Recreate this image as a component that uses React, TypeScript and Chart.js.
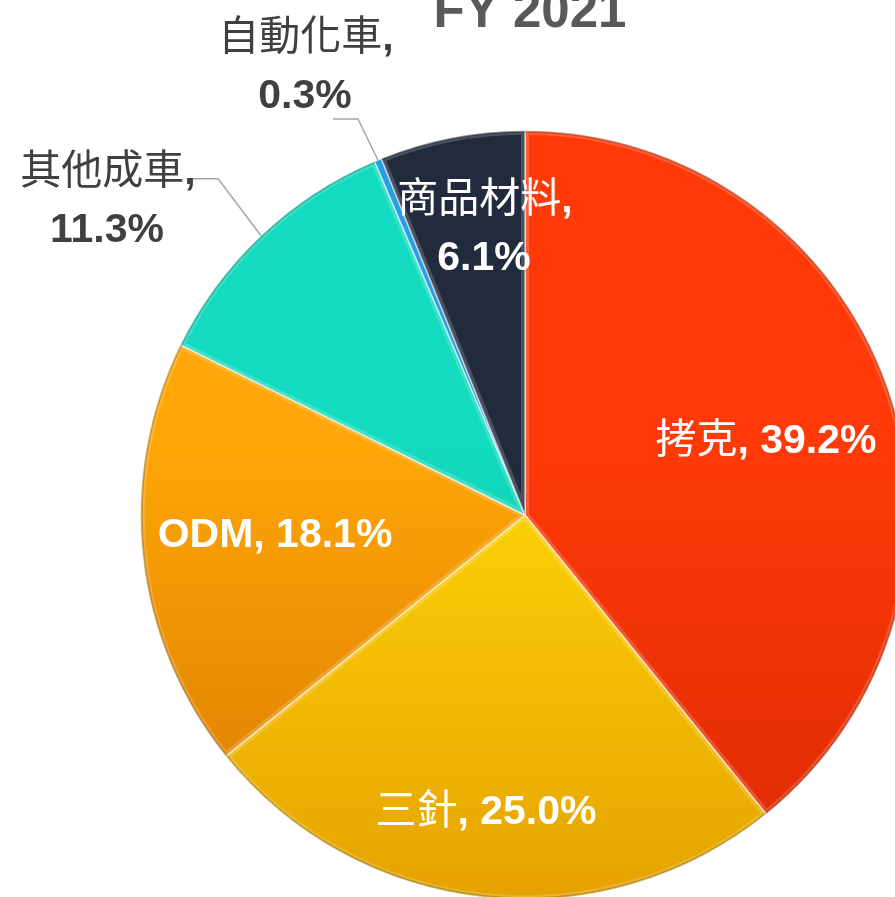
import React, { useEffect, useRef } from "react";
import { Chart, registerables } from "chart.js";
Chart.register(...registerables);

// ---- data ----
const title = "FY 2021";
const categories = ["拷克", "三針", "ODM", "其他成車", "自動化車", "商品材料"];
const shares = [39.2, 25.0, 18.1, 11.3, 0.3, 6.1];

// ---- styles ----
const topColors = ["#FF3A08", "#FFD808", "#FFA708", "#12DBBF", "#2A9EE2", "#222B3D"];
const bottomColors = ["#DC2A02", "#E6A200", "#D67800", "#0BB597", "#1878BA", "#181E2C"];
const LATIN_FONT = "'Liberation Sans', Arial, sans-serif";
const CJK_FONT = "'Noto Sans CJK TC', 'Noto Sans CJK SC', sans-serif";
const FS = 41;

// label layout: offsets (px) from pie centre for each line's centre/baseline
// inside: true = white text in slice; leader: elbow offsets from the slice's outer mid point
const labelLayout = [
  { lines: [{ dx: 241, dy: -62, text: (c: string, v: string) => `${c}, ${v}` }], inside: true },
  { lines: [{ dx: -39, dy: 309, text: (c: string, v: string) => `${c}, ${v}` }], inside: true },
  { lines: [{ dx: -250, dy: 32, text: (c: string, v: string) => `${c}, ${v}` }], inside: true },
  {
    lines: [
      { dx: -417, dy: -331, text: (c: string) => `${c},` },
      { dx: -418, dy: -273, text: (_c: string, v: string) => v },
    ],
    inside: false,
    leader: [[-57, -57], [-43, -57]],
  },
  {
    lines: [
      { dx: -219, dy: -465, text: (c: string) => `${c},` },
      { dx: -220, dy: -407, text: (_c: string, v: string) => v },
    ],
    inside: false,
    leader: [[-31, -41], [-20, -41]],
  },
  {
    lines: [
      { dx: -40, dy: -303, text: (c: string) => `${c},` },
      { dx: -41, dy: -245, text: (_c: string, v: string) => v },
    ],
    inside: true,
  },
];

const isCJK = (ch: string) => ch.charCodeAt(0) >= 0x2e80;

function drawMixed(ctx: CanvasRenderingContext2D, text: string, cx: number, by: number, color: string) {
  const runs: { t: string; cjk: boolean }[] = [];
  for (const ch of text) {
    const c = isCJK(ch);
    if (runs.length && runs[runs.length - 1].cjk === c) runs[runs.length - 1].t += ch;
    else runs.push({ t: ch, cjk: c });
  }
  const fontFor = (cjk: boolean) => (cjk ? `400 ${FS}px ${CJK_FONT}` : `bold ${FS}px ${LATIN_FONT}`);
  let total = 0;
  const widths = runs.map((r) => {
    ctx.font = fontFor(r.cjk);
    const w = ctx.measureText(r.t).width;
    total += w;
    return w;
  });
  let x = cx - total / 2;
  ctx.fillStyle = color;
  ctx.textAlign = "left";
  ctx.textBaseline = "alphabetic";
  runs.forEach((r, i) => {
    ctx.font = fontFor(r.cjk);
    ctx.fillText(r.t, x, by);
    x += widths[i];
  });
}

// subtle bevel: light inner edge + darker rim on every slice
const bevelPlugin = {
  id: "pieBevel",
  afterDatasetsDraw(chart: any) {
    const ctx: CanvasRenderingContext2D = chart.ctx;
    const meta = chart.getDatasetMeta(0);
    ctx.save();
    meta.data.forEach((arc: any) => {
      const { x, y, startAngle, endAngle, outerRadius } = arc.getProps(
        ["x", "y", "startAngle", "endAngle", "outerRadius"],
        true
      );
      if (endAngle - startAngle < 0.05) return;
      ctx.save();
      ctx.beginPath();
      ctx.moveTo(x, y);
      ctx.arc(x, y, outerRadius, startAngle, endAngle);
      ctx.closePath();
      ctx.clip();
      ctx.beginPath();
      ctx.moveTo(x, y);
      ctx.arc(x, y, outerRadius, startAngle, endAngle);
      ctx.closePath();
      ctx.strokeStyle = "rgba(255,255,255,0.18)";
      ctx.lineWidth = 8;
      ctx.stroke();
      ctx.beginPath();
      ctx.arc(x, y, outerRadius, startAngle, endAngle);
      ctx.strokeStyle = "rgba(0,0,0,0.18)";
      ctx.lineWidth = 4;
      ctx.stroke();
      ctx.restore();
    });
    ctx.restore();
  },
};

const labelPlugin = {
  id: "pieLabels",
  afterDatasetsDraw(chart: any) {
    const ctx: CanvasRenderingContext2D = chart.ctx;
    const meta = chart.getDatasetMeta(0);
    ctx.save();
    meta.data.forEach((arc: any, i: number) => {
      const { x: cx, y: cy, startAngle, endAngle, outerRadius } = arc.getProps(
        ["x", "y", "startAngle", "endAngle", "outerRadius"],
        true
      );
      const lay = labelLayout[i];
      const value = shares[i].toFixed(1) + "%";
      const color = lay.inside ? "#FFFFFF" : "#404040";
      if (lay.leader) {
        const mid = (startAngle + endAngle) / 2;
        const px = cx + Math.cos(mid) * outerRadius;
        const py = cy + Math.sin(mid) * outerRadius;
        ctx.beginPath();
        ctx.strokeStyle = "#A6A6A6";
        ctx.lineWidth = 1.5;
        const pts = lay.leader;
        ctx.moveTo(px + pts[0][0] - 14, py + pts[0][1]);
        ctx.lineTo(px + pts[1][0], py + pts[1][1]);
        ctx.lineTo(px, py);
        ctx.stroke();
      }
      lay.lines.forEach((ln) => {
        drawMixed(ctx, ln.text(categories[i], value), cx + ln.dx, cy + ln.dy, color);
      });
    });
    // title
    const c0 = meta.data[0];
    ctx.font = `bold 51px ${LATIN_FONT}`;
    ctx.fillStyle = "#595959";
    ctx.textAlign = "center";
    ctx.textBaseline = "alphabetic";
    ctx.fillText(title, c0.x + 5, c0.y - 488);
    ctx.restore();
  },
};

export default function App() {
  const ref = useRef<HTMLCanvasElement | null>(null);
  useEffect(() => {
    if (!ref.current) return;
    const bg = (c: any) => {
      const i = c.dataIndex;
      const area = c.chart.chartArea;
      if (!area) return topColors[i];
      const g = c.chart.ctx.createLinearGradient(0, area.top, 0, area.bottom);
      g.addColorStop(0, topColors[i]);
      g.addColorStop(0.4, topColors[i]);
      g.addColorStop(1, bottomColors[i]);
      return g;
    };
    const chart = new Chart(ref.current, {
      type: "pie",
      data: {
        labels: categories,
        datasets: [
          {
            data: shares,
            backgroundColor: bg,
            borderColor: "rgba(255,255,255,0.55)",
            borderWidth: 1.5,
          },
        ],
      },
      options: {
        animation: false,
        responsive: false,
        devicePixelRatio: 1,
        rotation: 0,
        layout: { padding: { left: 140, top: 130, right: 0, bottom: 0 } },
        plugins: {
          legend: { display: false },
          tooltip: { enabled: false },
          title: { display: false },
        },
      },
      plugins: [bevelPlugin, labelPlugin],
    });
    return () => chart.destroy();
  }, []);
  return (
    <div
      style={{
        position: "fixed",
        left: 0,
        top: 0,
        width: 895,
        height: 897,
        overflow: "hidden",
        background: "#ffffff",
      }}
    >
      <canvas ref={ref} width={910} height={900} style={{ display: "block" }} />
    </div>
  );
}
